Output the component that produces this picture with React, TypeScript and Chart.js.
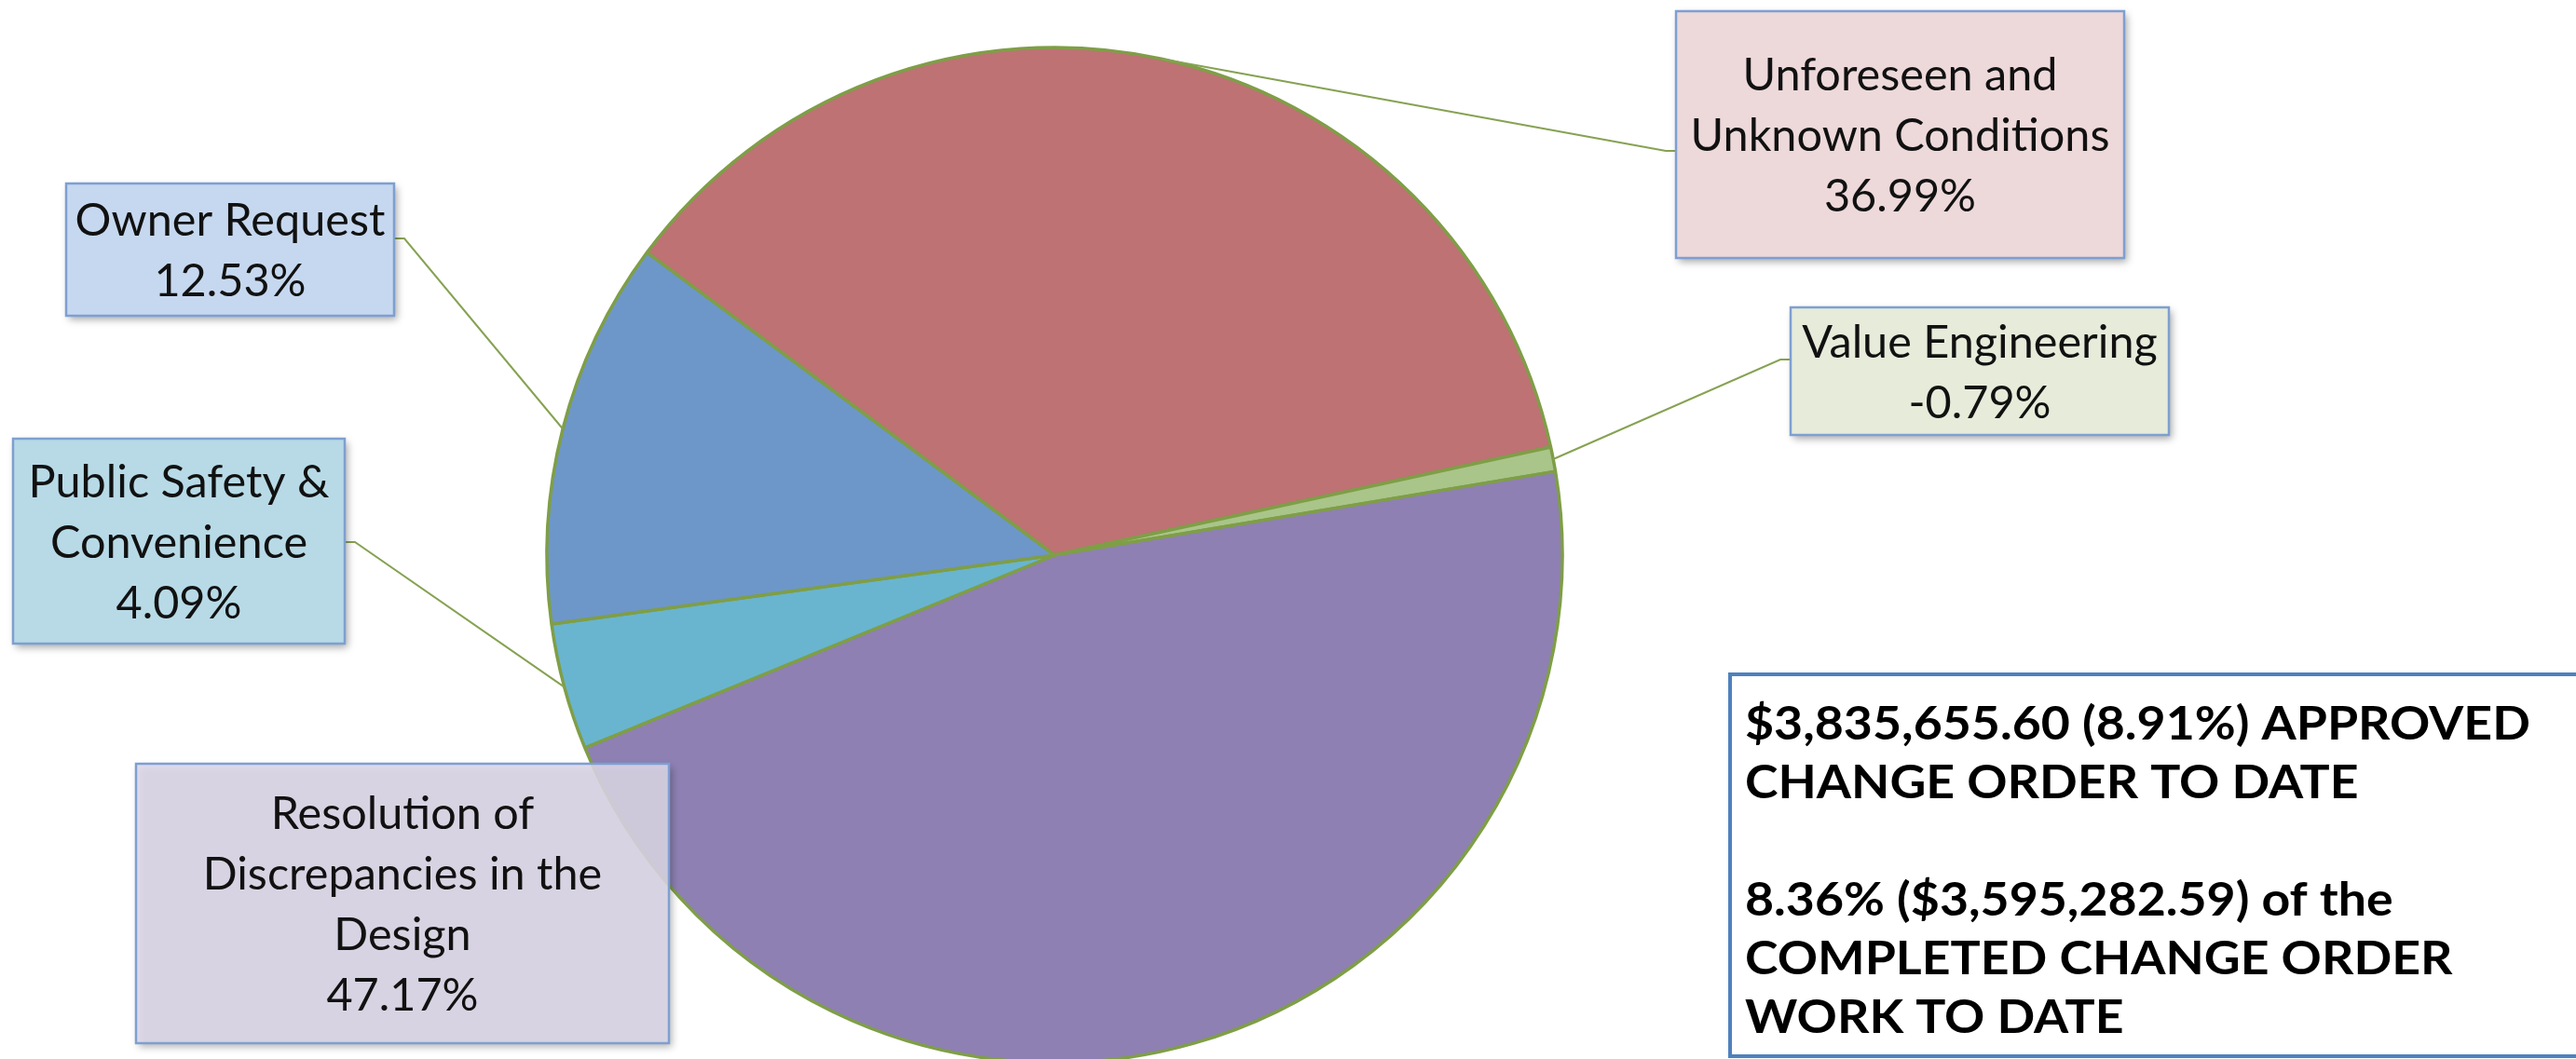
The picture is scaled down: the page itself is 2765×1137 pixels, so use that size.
import React, { useEffect, useRef } from 'react';
import { Chart, registerables } from 'chart.js';

Chart.register(...registerables);

// ---- data ----
const categories = [
  'Unforeseen and\nUnknown Conditions',
  'Value Engineering',
  'Resolution of\nDiscrepancies in the\nDesign',
  'Public Safety &\nConvenience',
  'Owner Request',
];
const values = [36.99, -0.79, 47.17, 4.09, 12.53];
const sliceColors = ['#BE7274', '#A9C589', '#8E80B3', '#69B5CF', '#6D97C9'];
const boxFills = ['#EDD8DA', '#E6EBDA', 'rgba(221,215,232,0.88)', '#B7DAE6', '#C6D8EF'];
const summaryLines = [
  '$3,835,655.60 (8.91%) APPROVED',
  'CHANGE ORDER TO DATE',
  '',
  '8.36% ($3,595,282.59) of the',
  'COMPLETED CHANGE ORDER',
  'WORK TO DATE',
];

// ---- layout (style only) ----
type Box = { x: number; y: number; w: number; h: number; side: 'left' | 'right' | null; cy: number };
const boxes: Box[] = [
  { x: 1799, y: 12, w: 481, h: 265, side: 'left', cy: 162 },
  { x: 1922, y: 330, w: 406, h: 137, side: 'left', cy: 386 },
  { x: 146, y: 820, w: 572, h: 300, side: null, cy: 0 },
  { x: 14, y: 471, w: 356, h: 220, side: 'right', cy: 582 },
  { x: 71, y: 197, w: 352, h: 142, side: 'right', cy: 256 },
];

const labelPlugin = {
  id: 'calloutLabels',
  afterDatasetsDraw(chart: any) {
    const ctx: CanvasRenderingContext2D = chart.ctx;
    const meta = chart.getDatasetMeta(0);
    ctx.save();
    ctx.font = '100px Lato';
    const refW = ctx.measureText('Unknown Conditions').width;
    const fs = (100 * 450) / refW;
    const lineH = 65;

    meta.data.forEach((arc: any, i: number) => {
      const b = boxes[i];
      const p = arc.getProps(['x', 'y', 'startAngle', 'endAngle', 'outerRadius'], true);
      const mid = (p.startAngle + p.endAngle) / 2;
      const px = p.x + Math.cos(mid) * p.outerRadius;
      const py = p.y + Math.sin(mid) * p.outerRadius;

      if (b.side) {
        const edgeX = b.side === 'left' ? b.x : b.x + b.w;
        const elbowX = b.side === 'left' ? b.x - 11 : b.x + b.w + 11;
        ctx.beginPath();
        ctx.moveTo(px, py);
        ctx.lineTo(elbowX, b.cy);
        ctx.lineTo(edgeX, b.cy);
        ctx.strokeStyle = '#86A252';
        ctx.lineWidth = 2;
        ctx.stroke();
      }

      // box
      ctx.save();
      ctx.shadowColor = 'rgba(0,0,0,0.35)';
      ctx.shadowBlur = 8;
      ctx.shadowOffsetX = 3;
      ctx.shadowOffsetY = 4;
      ctx.fillStyle = boxFills[i];
      ctx.fillRect(b.x, b.y, b.w, b.h);
      ctx.restore();
      ctx.strokeStyle = '#7E9FD1';
      ctx.lineWidth = 2.5;
      ctx.strokeRect(b.x, b.y, b.w, b.h);

      // text
      const lines = categories[i].split('\n').concat([values[i].toFixed(2) + '%']);
      ctx.fillStyle = '#111';
      ctx.font = `${fs}px Lato`;
      ctx.textAlign = 'center';
      ctx.textBaseline = 'middle';
      const cy = b.y + b.h / 2;
      const first = cy - ((lines.length - 1) * lineH) / 2;
      lines.forEach((t, k) => {
        ctx.fillText(t, b.x + b.w / 2, first + k * lineH + 2);
      });
    });

    // summary box
    ctx.fillStyle = '#fff';
    ctx.fillRect(1857, 724, 1000, 410);
    ctx.strokeStyle = '#4F81BD';
    ctx.lineWidth = 4;
    ctx.strokeRect(1857, 724, 1000, 410);
    ctx.font = 'bold 50px Lato';
    ctx.textAlign = 'left';
    ctx.textBaseline = 'alphabetic';
    ctx.fillStyle = '#000';
    const sx = 843 / ctx.measureText(summaryLines[0]).width;
    summaryLines.forEach((t, k) => {
      if (!t) return;
      ctx.save();
      ctx.translate(1873, 794 + k * 63);
      ctx.scale(sx, 1);
      ctx.fillText(t, 0, 0);
      ctx.restore();
    });
    ctx.restore();
  },
};

export default function App() {
  const ref = useRef<HTMLCanvasElement>(null);
  useEffect(() => {
    if (!ref.current) return;
    const chart = new Chart(ref.current, {
      type: 'pie',
      data: {
        labels: categories.map((c) => c.replace(/\n/g, ' ')),
        datasets: [
          {
            data: values,
            backgroundColor: sliceColors,
            borderColor: '#7F9E47',
            borderWidth: 3.5,
            clip: false as any,
          },
        ],
      },
      options: {
        responsive: true,
        maintainAspectRatio: false,
        animation: false,
        events: [],
        rotation: -53.4,
        radius: 545,
        layout: { padding: { left: 0, right: 501, top: 55, bottom: 0 } },
        plugins: { legend: { display: false }, tooltip: { enabled: false } },
      } as any,
      plugins: [labelPlugin],
    });
    return () => chart.destroy();
  }, []);
  return (
    <div style={{ position: 'fixed', left: 0, top: 0, width: 2765, height: 1137, background: '#fff' }}>
      <canvas ref={ref} style={{ display: 'block' }} />
    </div>
  );
}
